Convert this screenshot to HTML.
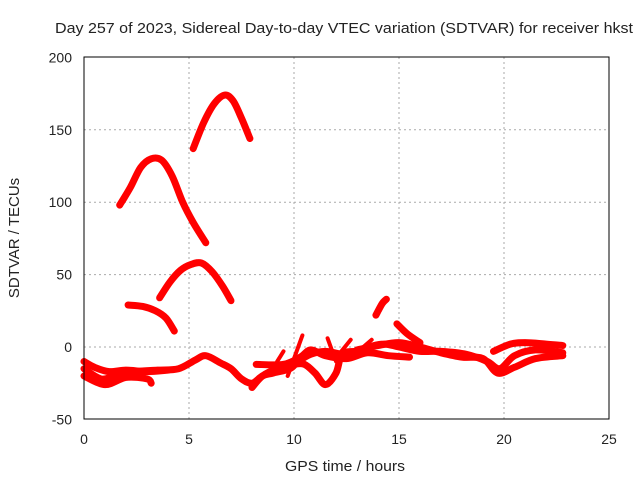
<!DOCTYPE html>
<html><head><meta charset="utf-8"><style>
body{margin:0;background:#fff}
svg text{font-family:"Liberation Sans",sans-serif;font-size:14px;fill:#222}
</style></head><body>
<svg id="c" width="640" height="480" xmlns="http://www.w3.org/2000/svg">
<rect width="640" height="480" fill="#fff"/>
<text x="55" y="33" textLength="578" lengthAdjust="spacingAndGlyphs" style="font-size:15px">Day 257 of 2023, Sidereal Day-to-day VTEC variation (SDTVAR) for receiver hkst</text>
<text x="285" y="471" textLength="120" lengthAdjust="spacingAndGlyphs" style="font-size:15px">GPS time / hours</text>
<text transform="translate(19,238) rotate(-90)" text-anchor="middle" style="font-size:15px">SDTVAR / TECUs</text>
<g id="grid"></g><g id="series"></g>
<rect x="84" y="57" width="525" height="362" fill="none" stroke="#000" stroke-width="1"/>
</svg>
<script>
const xTicks=[0,5,10,15,20,25];
const yTicks=[-50,0,50,100,150,200];
const arcA=[[1.7,98],[2.2,110],[2.7,124],[3.2,130],[3.7,129],[4.2,118],[4.7,100],[5.2,86],[5.8,72]];
const arcB=[[5.2,137],[5.7,155],[6.2,168],[6.7,174],[7.1,170],[7.5,158],[7.9,144]];
const arcC=[[3.6,34],[4.1,45],[4.6,53],[5.1,57],[5.6,58],[6.1,52],[6.6,42],[7.0,32]];
const arcD=[[2.1,29],[2.8,28],[3.4,25],[3.9,20],[4.3,11]];
const arcE=[[13.9,22],[14.2,30],[14.4,33]];
const arcF=[[14.9,16],[15.4,9],[16,3]];
const band1=[[0,-15],[0.8,-22],[1.5,-20],[2.5,-17],[3.5,-16],[4.5,-15],[5.3,-9],[5.8,-6],[6.5,-11],[7,-15],[7.5,-22],[8,-25],[8.5,-20],[9,-18],[9.8,-15],[10.2,-10],[10.8,-5],[11.5,-3],[12.3,-5],[13,-5],[13.6,0],[14.3,2],[15,0],[16,-3],[17,-3],[18.2,-5],[19.2,-10],[19.8,-15],[20.5,-6],[21.5,-2],[22.8,-4]];
const band2=[[0,-20],[1,-26],[2,-21],[3,-22],[3.2,-25]];
const band3=[[8,-28],[8.5,-20],[9.2,-15],[10,-12],[10.5,-12],[11,-18],[11.5,-26],[12,-18],[12.3,-5],[13,-3]];
const band4=[[13,-2],[14,1],[15,3],[16,0],[17,-4],[18,-7],[19,-8],[19.7,-18],[20.5,-14],[21.5,-8],[22.8,-6]];
const band5=[[8.2,-12],[9.5,-12],[10.3,-7],[10.8,-2],[11.5,-6],[12.5,-8],[13.5,-4],[14.5,-6],[15.5,-7]];
const band6=[[0,-10],[0.5,-14],[1.2,-17],[2,-16],[3,-17],[4,-16]];
const band7=[[19.5,-3],[20.3,2],[21,3],[22,2],[22.8,1]];
const spikes=[[[9.7,-20],[10.4,8]],[[11.6,6],[12,-10]],[[13.3,0],[13.7,5]],[[12.7,5],[12.2,-4]],[[9.2,-10],[9.5,-3]]];
const X=v=>84+v*21, Y=v=>347-v*1.448;
const NS="http://www.w3.org/2000/svg";
const g=document.getElementById('grid'), s=document.getElementById('series'), svg=document.getElementById('c');
xTicks.forEach(t=>{
 if(t>0&&t<25){const l=document.createElementNS(NS,'line');l.setAttribute('x1',X(t));l.setAttribute('x2',X(t));l.setAttribute('y1',57);l.setAttribute('y2',419);l.setAttribute('stroke','#aaa');l.setAttribute('stroke-dasharray','2,3');
 
 g.appendChild(l);}
 const tx=document.createElementNS(NS,'text');tx.setAttribute('x',X(t));tx.setAttribute('y',444);tx.setAttribute('text-anchor','middle');tx.textContent=t;
 
 svg.appendChild(tx);
});
yTicks.forEach(t=>{
 if(t>-50&&t<200){const l=document.createElementNS(NS,'line');l.setAttribute('x1',84);l.setAttribute('x2',609);l.setAttribute('y1',Y(t));l.setAttribute('y2',Y(t));l.setAttribute('stroke','#aaa');l.setAttribute('stroke-dasharray','2,3');
 
 g.appendChild(l);}
 const tx=document.createElementNS(NS,'text');tx.setAttribute('x',72);tx.setAttribute('y',Y(t)+5);tx.setAttribute('text-anchor','end');tx.textContent=t;
 
 svg.appendChild(tx);
});
function line(pts,w){
 const P=pts.map(q=>[X(q[0]),Y(q[1])]);
 let d='M'+P[0][0]+','+P[0][1];
 for(let i=0;i<P.length-1;i++){
  const p0=P[Math.max(0,i-1)],p1=P[i],p2=P[i+1],p3=P[Math.min(P.length-1,i+2)];
  const c1=[p1[0]+(p2[0]-p0[0])/6,p1[1]+(p2[1]-p0[1])/6];
  const c2=[p2[0]-(p3[0]-p1[0])/6,p2[1]-(p3[1]-p1[1])/6];
  d+=' C'+c1.join(',')+' '+c2.join(',')+' '+p2.join(',');
 }
 const p=document.createElementNS(NS,'path');
 p.setAttribute('d',d);
 p.setAttribute('fill','none');p.setAttribute('stroke','#f00');p.setAttribute('stroke-width',w);p.setAttribute('stroke-linejoin','round');p.setAttribute('stroke-linecap','round');
 
 
 s.appendChild(p);
}
[arcA,arcB,arcC,arcD,arcE,arcF].forEach(a=>line(a,7));
[band1,band2,band3,band4,band5,band6,band7].forEach(a=>line(a,7));
spikes.forEach(a=>line(a,4));
</script>
</body></html>
